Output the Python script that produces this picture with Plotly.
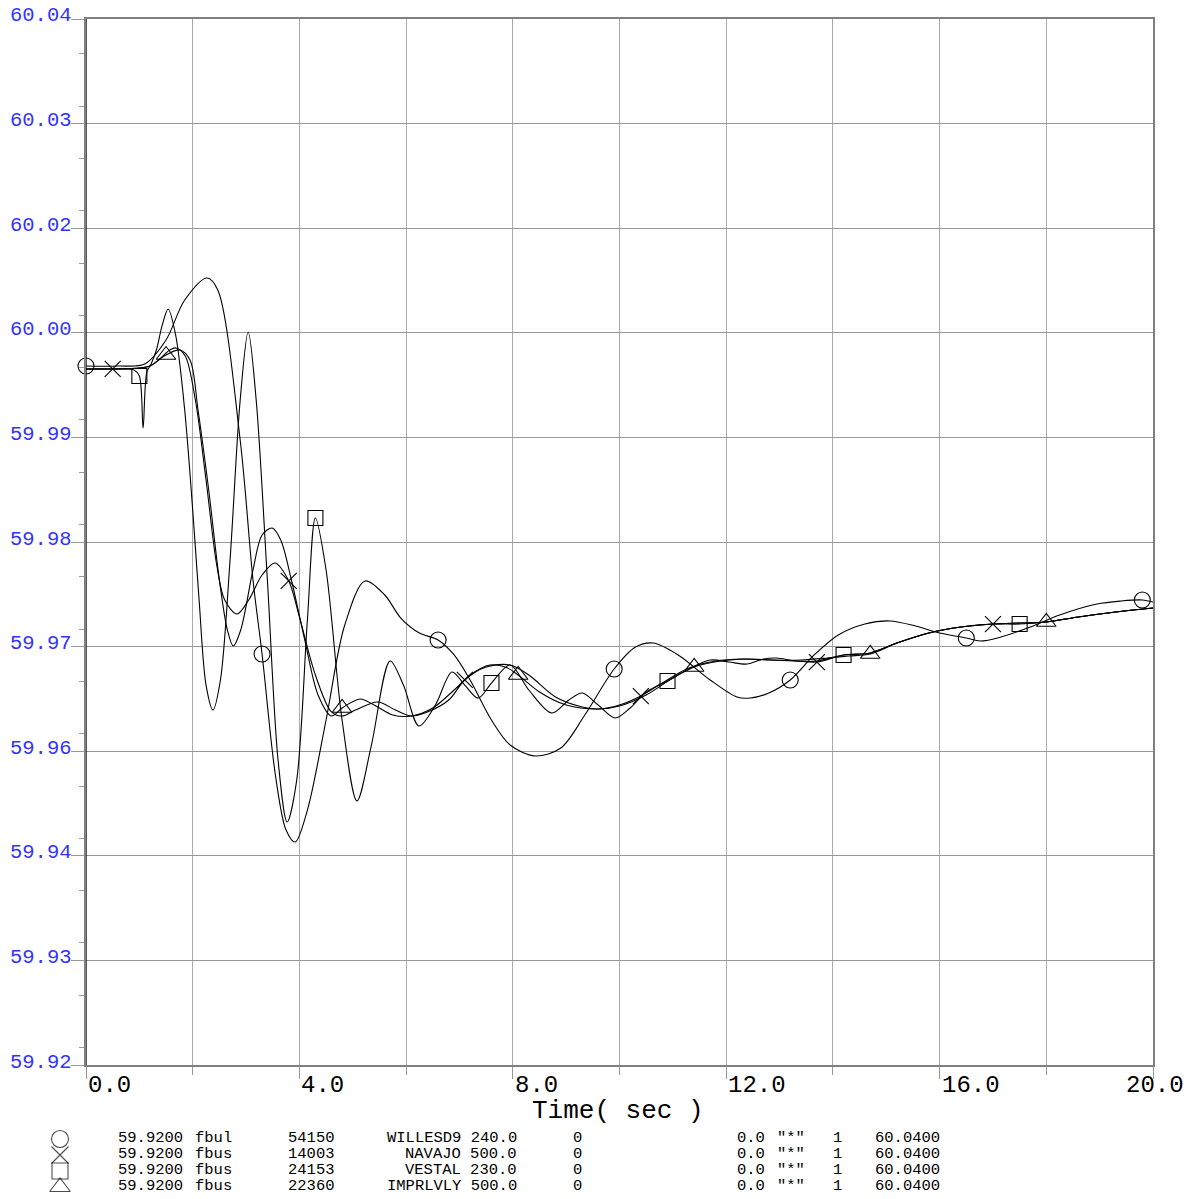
import numpy as np
import plotly.graph_objects as go

# ---------------- data (time in s, frequency in Hz) ----------------
t_willesd9 = [0.0, 0.6, 1.1, 1.5, 1.85, 2.27, 2.47, 2.89, 3.13, 3.3, 3.55, 3.75, 3.92, 4.15, 4.5,
              4.85, 5.23, 5.6, 5.9, 6.25, 6.6, 6.9, 7.2, 7.6, 7.95, 8.42, 8.9, 9.35, 9.9, 10.3,
              10.63, 11.1, 11.7, 12.2, 12.45, 12.8, 13.2, 13.65, 14.1, 14.6, 15.07, 15.55, 16.0,
              16.5, 16.76, 17.15, 17.7, 18.25, 18.95, 19.4, 19.8, 20.0]
v_willesd9 = [60.00019, 60.00019, 60.00042, 60.00317, 60.00776, 60.01029, 60.00891, 59.9917,
              59.97564, 59.96715, 59.95327, 59.94696, 59.94558, 59.94925, 59.95958, 59.97048,
              59.97553, 59.97392, 59.97128, 59.96956, 59.96876, 59.96704, 59.96417, 59.95958,
              59.95671, 59.95545, 59.95637, 59.96015, 59.96543, 59.96795, 59.96841, 59.96704,
              59.96417, 59.96222, 59.9621, 59.96268, 59.96417, 59.96704, 59.96933, 59.97059,
              59.97094, 59.97036, 59.96956, 59.96899, 59.96864, 59.9691, 59.97025, 59.97163,
              59.97289, 59.97323, 59.97335, 59.97312]

t_navajo = [0.0, 0.5, 1.0, 1.2, 1.4, 1.57, 1.69, 1.86, 2.05, 2.25, 2.45, 2.6, 2.83, 3.05, 3.3,
            3.54, 3.8, 4.0, 4.3, 4.6, 4.8, 5.05, 5.47, 5.8, 6.1, 6.4, 6.8, 7.1, 7.5, 7.95, 8.3,
            8.8, 9.3, 9.6, 10.0, 10.4, 10.8, 11.3, 11.8, 12.3, 12.8, 13.3, 13.7, 14.2, 14.7,
            15.2, 15.8, 16.4, 17.0, 17.5, 18.0, 18.6, 19.3, 20.0]
v_navajo = [59.99985, 59.99985, 59.99996, 60.00019, 60.00111, 60.00203, 60.00226, 60.00134,
            59.99629, 59.98711, 59.97736, 59.97335, 59.97174, 59.97335, 59.97621, 59.97759,
            59.97553, 59.9714, 59.96474, 59.9605, 59.96004, 59.96073, 59.96164, 59.96073,
            59.96004, 59.9605, 59.96187, 59.96417, 59.96566, 59.96589, 59.96474, 59.96222,
            59.96107, 59.96084, 59.9613, 59.96233, 59.96382, 59.96554, 59.96635, 59.96658,
            59.96646, 59.96635, 59.96623, 59.96704, 59.96727, 59.96841, 59.96956, 59.97025,
            59.97059, 59.97071, 59.97082, 59.9714, 59.97197, 59.97243]

t_vestal = [0.0, 0.5, 0.9, 1.0, 1.07, 1.14, 1.22, 1.32, 1.43, 1.54, 1.68, 1.85, 2.0, 2.12, 2.25,
            2.38, 2.52, 2.7, 2.89, 3.04, 3.19, 3.4, 3.6, 3.77, 3.95, 4.15, 4.3, 4.5, 4.8, 5.08,
            5.35, 5.7, 5.95, 6.24, 6.55, 6.86, 7.1, 7.35, 7.6, 7.95, 8.3, 8.73, 9.05, 9.3, 9.6,
            9.92, 10.2, 10.5, 10.9, 11.27, 11.7, 12.05, 12.39, 12.7, 12.95, 13.3, 13.7, 14.2,
            14.7, 15.2, 15.8, 16.4, 17.0, 17.5, 18.0, 18.6, 19.3, 20.0]
v_vestal = [59.99985, 59.99985, 59.99973, 59.99904, 59.99308, 59.9995, 60.00042, 60.00203,
            60.0049, 60.00673, 60.00375, 59.99514, 59.98367, 59.97335, 59.96359, 59.96073,
            59.96417, 59.97793, 59.99629, 60.00409, 59.99629, 59.97564, 59.95499, 59.94788,
            59.9527, 59.97105, 59.98275, 59.97679, 59.95958, 59.95029, 59.95671, 59.96635,
            59.96359, 59.95889, 59.9613, 59.96509, 59.96359, 59.9621, 59.96382, 59.96589,
            59.96302, 59.96038, 59.96187, 59.96268, 59.9613, 59.95981, 59.96096, 59.96279,
            59.96405, 59.96532, 59.96646, 59.96623, 59.966, 59.96658, 59.96669, 59.96635,
            59.96635, 59.96704, 59.96727, 59.96841, 59.96956, 59.97025, 59.97059, 59.97059,
            59.97082, 59.9714, 59.97197, 59.97243]

t_imprlvly = [0.0, 0.6, 1.0, 1.2, 1.5, 1.76, 1.95, 2.1, 2.3, 2.5, 2.65, 2.76, 2.9, 3.13, 3.3,
              3.49, 3.65, 3.85, 4.1, 4.35, 4.6, 4.8, 5.14, 5.4, 5.75, 6.1, 6.5, 6.9, 7.2, 7.57,
              7.9, 8.1, 8.5, 9.0, 9.6, 10.0, 10.5, 11.0, 11.4, 11.9, 12.4, 12.9, 13.4, 13.9,
              14.3, 14.7, 15.2, 15.8, 16.4, 17.0, 17.5, 18.0, 18.6, 19.3, 20.0]
v_imprlvly = [59.99985, 59.99985, 59.99996, 60.00019, 60.00145, 60.00203, 60.00088, 59.99514,
              59.98597, 59.97564, 59.9699, 59.96807, 59.9699, 59.97679, 59.9808, 59.98161,
              59.98023, 59.97564, 59.96876, 59.96245, 59.96004, 59.96096, 59.96199, 59.9613,
              59.96015, 59.96004, 59.96096, 59.96302, 59.96474, 59.96589, 59.96554, 59.96474,
              59.96279, 59.9613, 59.96084, 59.96119, 59.96245, 59.9644, 59.96566, 59.96635,
              59.96658, 59.96646, 59.96646, 59.96669, 59.96692, 59.96715, 59.96841, 59.96956,
              59.97025, 59.97059, 59.97071, 59.97082, 59.9714, 59.97197, 59.97243]

# symbol sample times (one symbol every 3.3 s, staggered per channel)
mk_willesd9 = [0.0, 3.3, 6.6, 9.9, 13.2, 16.5, 19.8]
mk_navajo = [0.5, 3.8, 7.1, 10.4, 13.7, 17.0]
mk_vestal = [1.0, 4.3, 7.6, 10.9, 14.2, 17.5]
mk_imprlvly = [1.5, 4.8, 8.1, 11.4, 14.7, 18.0]

# axis scaling
y_min, y_max = 59.92, 60.04
x_min, x_max = 0.0, 20.0
y_tick_labels = ["59.92", "59.93", "59.94", "59.96", "59.97", "59.98",
                 "59.99", "60.00", "60.02", "60.03", "60.04"]
x_tick_vals = [0, 4, 8, 12, 16, 20]
x_tick_labels = ["0.0", "4.0", "8.0", "12.0", "16.0", "20.0"]

# channel table below the chart
ch_min = ["59.9200", "59.9200", "59.9200", "59.9200"]
ch_type = ["fbul", "fbus", "fbus", "fbus"]
ch_bus = ["54150", "14003", "24153", "22360"]
ch_name = ["WILLESD9", "NAVAJO", "VESTAL", "IMPRLVLY"]
ch_kv = ["240.0", "500.0", "230.0", "500.0"]
ch_id = ["0", "0", "0", "0"]
ch_mult = ["0.0", "0.0", "0.0", "0.0"]
ch_star = ['"*"', '"*"', '"*"', '"*"']
ch_one = ["1", "1", "1", "1"]
ch_max = ["60.0400", "60.0400", "60.0400", "60.0400"]

# ---------------- figure ----------------
W, H = 1191, 1199
L, R, T, B = 86, 1153, 19, 1065
FONT = "Courier New, Liberation Mono, monospace"

fig = go.Figure()

series = [
    (t_willesd9, v_willesd9, mk_willesd9, "circle-open", 16),
    (t_navajo, v_navajo, mk_navajo, "x-thin-open", 16),
    (t_vestal, v_vestal, mk_vestal, "square-open", 15),
    (t_imprlvly, v_imprlvly, mk_imprlvly, "triangle-up-open", 17),
]
for t, v, mk, sym, sz in series:
    t = np.array(t)
    v = np.array(v)
    fig.add_trace(go.Scatter(x=t, y=v, mode="lines",
                             line=dict(color="black", width=1.1, shape="spline", smoothing=0.9),
                             hoverinfo="skip", showlegend=False))
    m = np.isin(np.round(t, 3), np.round(np.array(mk), 3))
    fig.add_trace(go.Scatter(x=t[m], y=v[m], mode="markers", cliponaxis=False,
                             marker=dict(symbol=sym, size=sz, color="black",
                                         line=dict(width=1.1, color="black")),
                             hoverinfo="skip", showlegend=False))

# legend symbols (pixel overlay axes)
leg_syms = ["circle-open", "x-thin-open", "square-open", "triangle-up-open"]
row_y = [1139, 1155, 1171, 1187]
fig.add_trace(go.Scatter(x=[60] * 4, y=row_y, mode="markers", xaxis="x2", yaxis="y2",
                         cliponaxis=False,
                         marker=dict(symbol=leg_syms, size=[17, 17, 16, 18], color="black",
                                     line=dict(width=1.1, color="black")),
                         hoverinfo="skip", showlegend=False))

ann = []
# y tick labels
ytv = [y_min + i * (y_max - y_min) / 10 for i in range(11)]
for yv, lab in zip(ytv, y_tick_labels):
    ann.append(dict(x=8, xref="x2", y=yv, yref="y", text=lab, showarrow=False,
                    xanchor="left", yanchor="middle", yshift=3,
                    font=dict(family=FONT, size=20.5, color="#3333ff")))
# x tick labels
for xv, lab in zip(x_tick_vals, x_tick_labels):
    if xv < 20:
        ann.append(dict(x=xv, xref="x", y=1085, yref="y2", text=lab, showarrow=False,
                        xanchor="left", yanchor="middle", xshift=0,
                        font=dict(family=FONT, size=24, color="black")))
    else:
        ann.append(dict(x=1186, xref="x2", y=1085, yref="y2", text=lab, showarrow=False,
                        xanchor="right", yanchor="middle",
                        font=dict(family=FONT, size=24, color="black")))
ann.append(dict(x=618, xref="x2", y=1111, yref="y2", text="Time( sec )", showarrow=False,
                xanchor="center", yanchor="middle",
                font=dict(family=FONT, size=26, color="black")))

# channel table
cols = [
    (ch_min, 116, "left"),
    (ch_type, 193, "left"),
    (ch_bus, 337, "right"),
    ([a + " " + b for a, b in zip(ch_name, ch_kv)], 519, "right"),
    (ch_id, 584, "right"),
    (ch_mult, 767, "right"),
    (ch_star, 775, "left"),
    (ch_one, 844, "right"),
    (ch_max, 873, "left"),
]
for vals, xpx, anc in cols:
    for yy, txt in zip(row_y, vals):
        ann.append(dict(x=xpx, xref="x2", y=yy - 1, yref="y2", text=txt, showarrow=False,
                        xanchor=anc, yanchor="middle",
                        font=dict(family=FONT, size=15.5, color="black")))

shapes = [
    dict(type="line", xref="x", yref="y domain", x0=0, x1=0, y0=0, y1=1,
         line=dict(color="black", width=1.3), layer="above"),
]

fig.update_layout(
    width=W, height=H, margin=dict(l=0, r=0, t=0, b=0),
    paper_bgcolor="white", plot_bgcolor="rgba(0,0,0,0)",
    showlegend=False,
    xaxis=dict(domain=[L / W, R / W], range=[x_min, x_max], tick0=0, dtick=4,
               showgrid=True, gridcolor="#aaaaaa", gridwidth=1,
               ticks="outside", ticklen=12, tickcolor="#999999", tickwidth=1,
               minor=dict(dtick=2, showgrid=True, gridcolor="#aaaaaa", gridwidth=1,
                          ticks="outside", ticklen=8, tickcolor="#999999"),
               showticklabels=False, zeroline=False,
               showline=True, mirror=True, linecolor="#808080", linewidth=2,
               anchor="y", fixedrange=True),
    yaxis=dict(domain=[1 - B / H, 1 - T / H], range=[y_min, y_max], tick0=y_min,
               dtick=(y_max - y_min) / 10,
               showgrid=True, gridcolor="#999999", gridwidth=1,
               ticks="outside", ticklen=13, tickcolor="#999999", tickwidth=1,
               minor=dict(dtick=(y_max - y_min) / 20, showgrid=False,
                          ticks="outside", ticklen=5, tickcolor="#999999"),
               showticklabels=False, zeroline=False,
               showline=True, mirror=True, linecolor="#808080", linewidth=1.5,
               anchor="x", fixedrange=True),
    xaxis2=dict(domain=[0, 1], range=[0, W], visible=False, anchor="y2", fixedrange=True),
    yaxis2=dict(domain=[0, 1], range=[H, 0], visible=False, anchor="x2", fixedrange=True),
    annotations=ann,
    shapes=shapes,
)

fig.write_html("out.html", config={"displayModeBar": False},
               post_script="document.body.style.margin='0px';")
